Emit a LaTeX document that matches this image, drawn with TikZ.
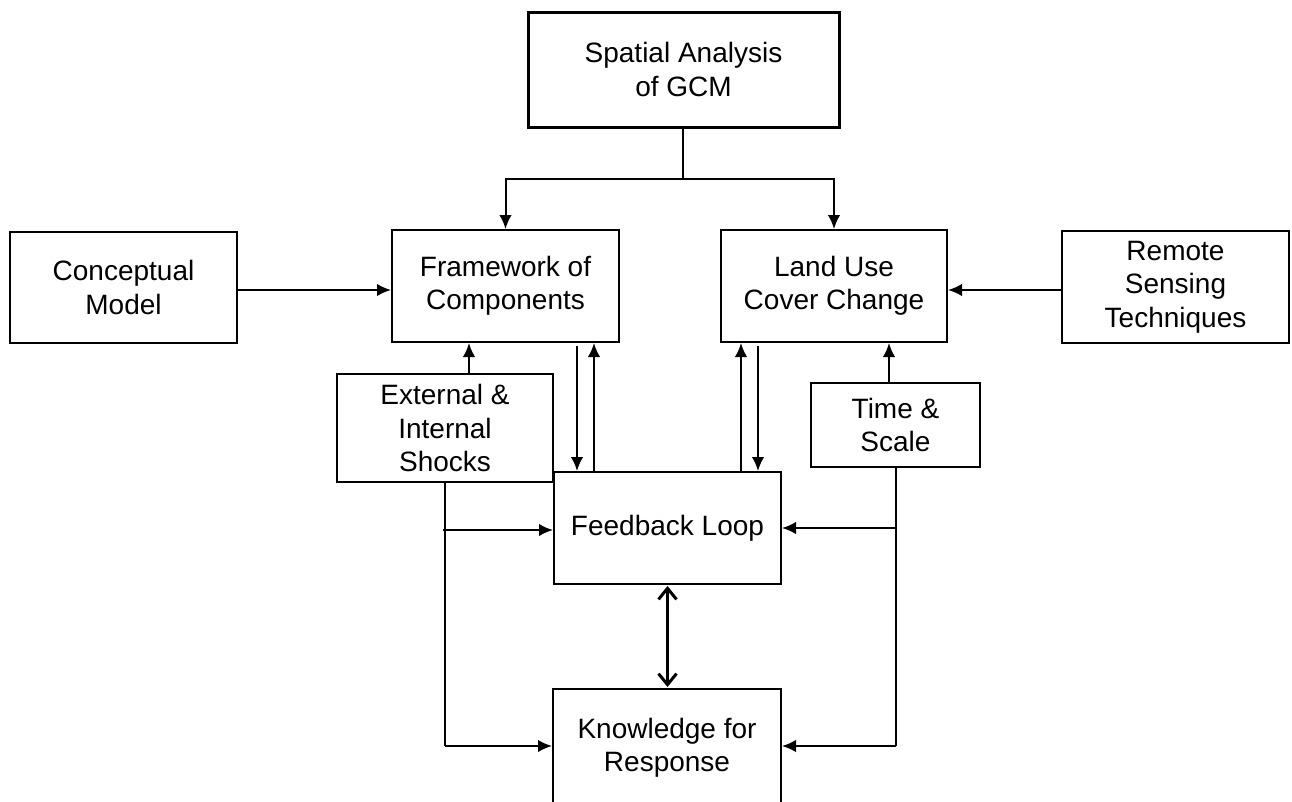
\documentclass[tikz,border=0pt]{standalone}
\usepackage{fontspec}
\setmainfont{Liberation Sans}
\usetikzlibrary{arrows.meta}
\newcommand\boxfont{\fontsize{28}{33.5}\selectfont}
\begin{document}
\begin{tikzpicture}[x=1pt,y=-1pt,
  box/.style={draw, line width=2pt, align=center, font=\boxfont, inner sep=0pt},
  arr/.style={line width=2pt, -{Latex[length=14pt,width=12.5pt]}},
  link/.style={line width=2pt},
  dbl/.style={line width=3pt, {Straight Barb[length=11pt,width=18pt]}-{Straight Barb[length=11pt,width=18pt]}}]
\useasboundingbox (0,0) rectangle (1292,801);

% boxes
\node[box, line width=3pt, minimum width=311pt, minimum height=115pt] (gcm) at (683.5,69.5) {Spatial Analysis\\of GCM};
\node[box, minimum width=227pt, minimum height=111pt] (cm) at (123.5,287.5) {Conceptual\\Model};
\node[box, minimum width=227pt, minimum height=112pt] (fw) at (505.5,286) {Framework of\\Components};
\node[box, minimum width=226pt, minimum height=112pt] (lu) at (834,286) {Land Use\\Cover Change};
\node[box, minimum width=227pt, minimum height=112pt] (rs) at (1175.5,287) {Remote\\Sensing\\Techniques};
\node[box, minimum width=216pt, minimum height=108pt] (ext) at (445,428) {External \&\\Internal\\Shocks};
\node[box, minimum width=169pt, minimum height=84pt] (ts) at (895.5,425) {Time \&\\Scale};
\node[box, minimum width=227pt, minimum height=112pt] (fb) at (667.5,528) {Feedback Loop};
\node[box, minimum width=228pt, minimum height=117pt] (kr) at (667,747.5) {Knowledge for\\Response};

% branch from the top box
\coordinate (split) at (683,179);
\draw[link] (gcm.south -| split) -- (split);
\draw[arr] (split) -| (fw.north);
\draw[arr] (split) -| (lu.north);

% side inputs
\draw[arr] (cm.east |- 0,290) -- (fw.west |- 0,290);
\draw[arr] (rs.west |- 0,290) -- (lu.east |- 0,290);

% shocks and time/scale feeding upward
\draw[arr] ([xshift=24pt]ext.north) -- ([xshift=24pt]ext.north |- fw.south);
\draw[arr] ([xshift=-6.5pt]ts.north) -- ([xshift=-6.5pt]ts.north |- lu.south);

% exchange between the upper boxes and the feedback loop
\draw[arr] ([yshift=-3pt]fw.south -| 577,0) -- (fb.north -| 577,0);
\draw[arr] (fb.north -| 594,0) -- (fw.south -| 594,0);
\draw[arr] (fb.north -| 741,0) -- (lu.south -| 741,0);
\draw[arr] ([yshift=-3pt]lu.south -| 758,0) -- (fb.north -| 758,0);

% left and right feed lines
\coordinate (lcorner) at (445,746);
\coordinate (rcorner) at (896,746);
\draw[link] (ext.south) -- (lcorner);
\draw[arr] (lcorner) -- (kr.west |- lcorner);
\draw[arr] (443,530) -- (fb.west |- 0,530);
\draw[link] (ts.south -| rcorner) -- (rcorner);
\draw[arr] (rcorner) -- (kr.east |- rcorner);
\draw[arr] (895,528) -- (fb.east |- 0,528);

% feedback <-> knowledge
\draw[dbl] ([yshift=-1pt]fb.south) -- ([yshift=1pt]kr.north -| fb.south);
\end{tikzpicture}
\end{document}
